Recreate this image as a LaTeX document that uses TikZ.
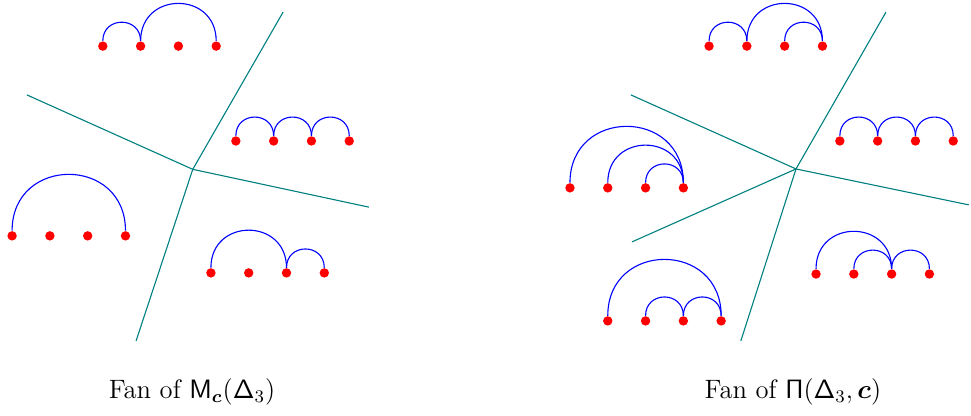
\documentclass[tikz,border=0pt]{standalone}
\usepackage{amsmath,amssymb}
\usepackage{xcolor}
\usepackage{tikz}
\usetikzlibrary{calc}
\tikzset{
  pt/.style={circle,fill=red,inner sep=1.5pt},
  arco/.style={blue,line width=0.5pt,out=90,in=90,looseness=1.7},
  rayo/.style={teal,line width=0.5pt}
}

\begin{document}
\begin{tikzpicture}[x=0.6cm,y=0.6cm]
\useasboundingbox (0,0) rectangle (25.69,-10.98);
% fan of M_c
\begin{scope}
\coordinate (lo) at (5.10,-4.48);
\coordinate (l1) at (7.49,-0.32);
\coordinate (l2) at (0.71,-2.51);
\coordinate (l3) at (9.76,-5.48);
\coordinate (l4) at (3.60,-9.02);
\foreach \r in {l1,l2,l3,l4} \draw[rayo] (lo) -- (\r);
\foreach \i in {1,...,4} \node[pt] (lt\i) at (1.72+\i,-1.22) {};
\draw[arco] (lt1) to (lt2); \draw[arco] (lt2) to (lt4);
\foreach \i in {1,...,4} \node[pt] (lr\i) at (5.24+\i,-3.73) {};
\draw[arco] (lr1) to (lr2); \draw[arco] (lr2) to (lr3); \draw[arco] (lr3) to (lr4);
\foreach \i in {1,...,4} \node[pt] (ll\i) at (-0.68+\i,-6.24) {};
\draw[arco] (ll1) to (ll4);
\foreach \i in {1,...,4} \node[pt] (lb\i) at (4.58+\i,-7.22) {};
\draw[arco] (lb1) to (lb3); \draw[arco] (lb3) to (lb4);
\node (lcap) at (5.08,-10.38) {\large Fan of $\mathsf{M}_{\boldsymbol{c}}(\mathsf{\Delta}_3)$};
\end{scope}
% fan of Pi
\begin{scope}[shift={(16,0)}]
\coordinate (ro) at (5.06,-4.47);
\coordinate (r1) at (7.44,-0.32);
\coordinate (r2) at (0.69,-2.51);
\coordinate (r3) at (9.63,-5.42);
\coordinate (r4) at (3.60,-9.02);
\coordinate (r5) at (0.72,-6.40);
\foreach \r in {r1,r2,r3,r4,r5} \draw[rayo] (ro) -- (\r);
\foreach \i in {1,...,4} \node[pt] (rt\i) at (1.76+\i,-1.22) {};
\draw[arco] (rt1) to (rt2); \draw[arco] (rt2) to (rt4); \draw[arco] (rt3) to (rt4);
\foreach \i in {1,...,4} \node[pt] (rr\i) at (5.22+\i,-3.73) {};
\draw[arco] (rr1) to (rr2); \draw[arco] (rr2) to (rr3); \draw[arco] (rr3) to (rr4);
\foreach \i in {1,...,4} \node[pt] (rl\i) at (-1.92+\i,-4.97) {};
\draw[arco] (rl1) to (rl4); \draw[arco] (rl2) to (rl4); \draw[arco] (rl3) to (rl4);
\foreach \i in {1,...,4} \node[pt] (rb\i) at (4.59+\i,-7.25) {};
\draw[arco] (rb1) to (rb3); \draw[arco] (rb2) to (rb3); \draw[arco] (rb3) to (rb4);
\foreach \i in {1,...,4} \node[pt] (rbl\i) at (-0.92+\i,-8.49) {};
\draw[arco] (rbl1) to (rbl4); \draw[arco] (rbl2) to (rbl3); \draw[arco] (rbl3) to (rbl4);
\node (rcap) at (4.98,-10.38) {\large Fan of $\mathsf{\Pi}(\mathsf{\Delta}_3,\boldsymbol{c})$};
\end{scope}
\end{tikzpicture}
\end{document}
